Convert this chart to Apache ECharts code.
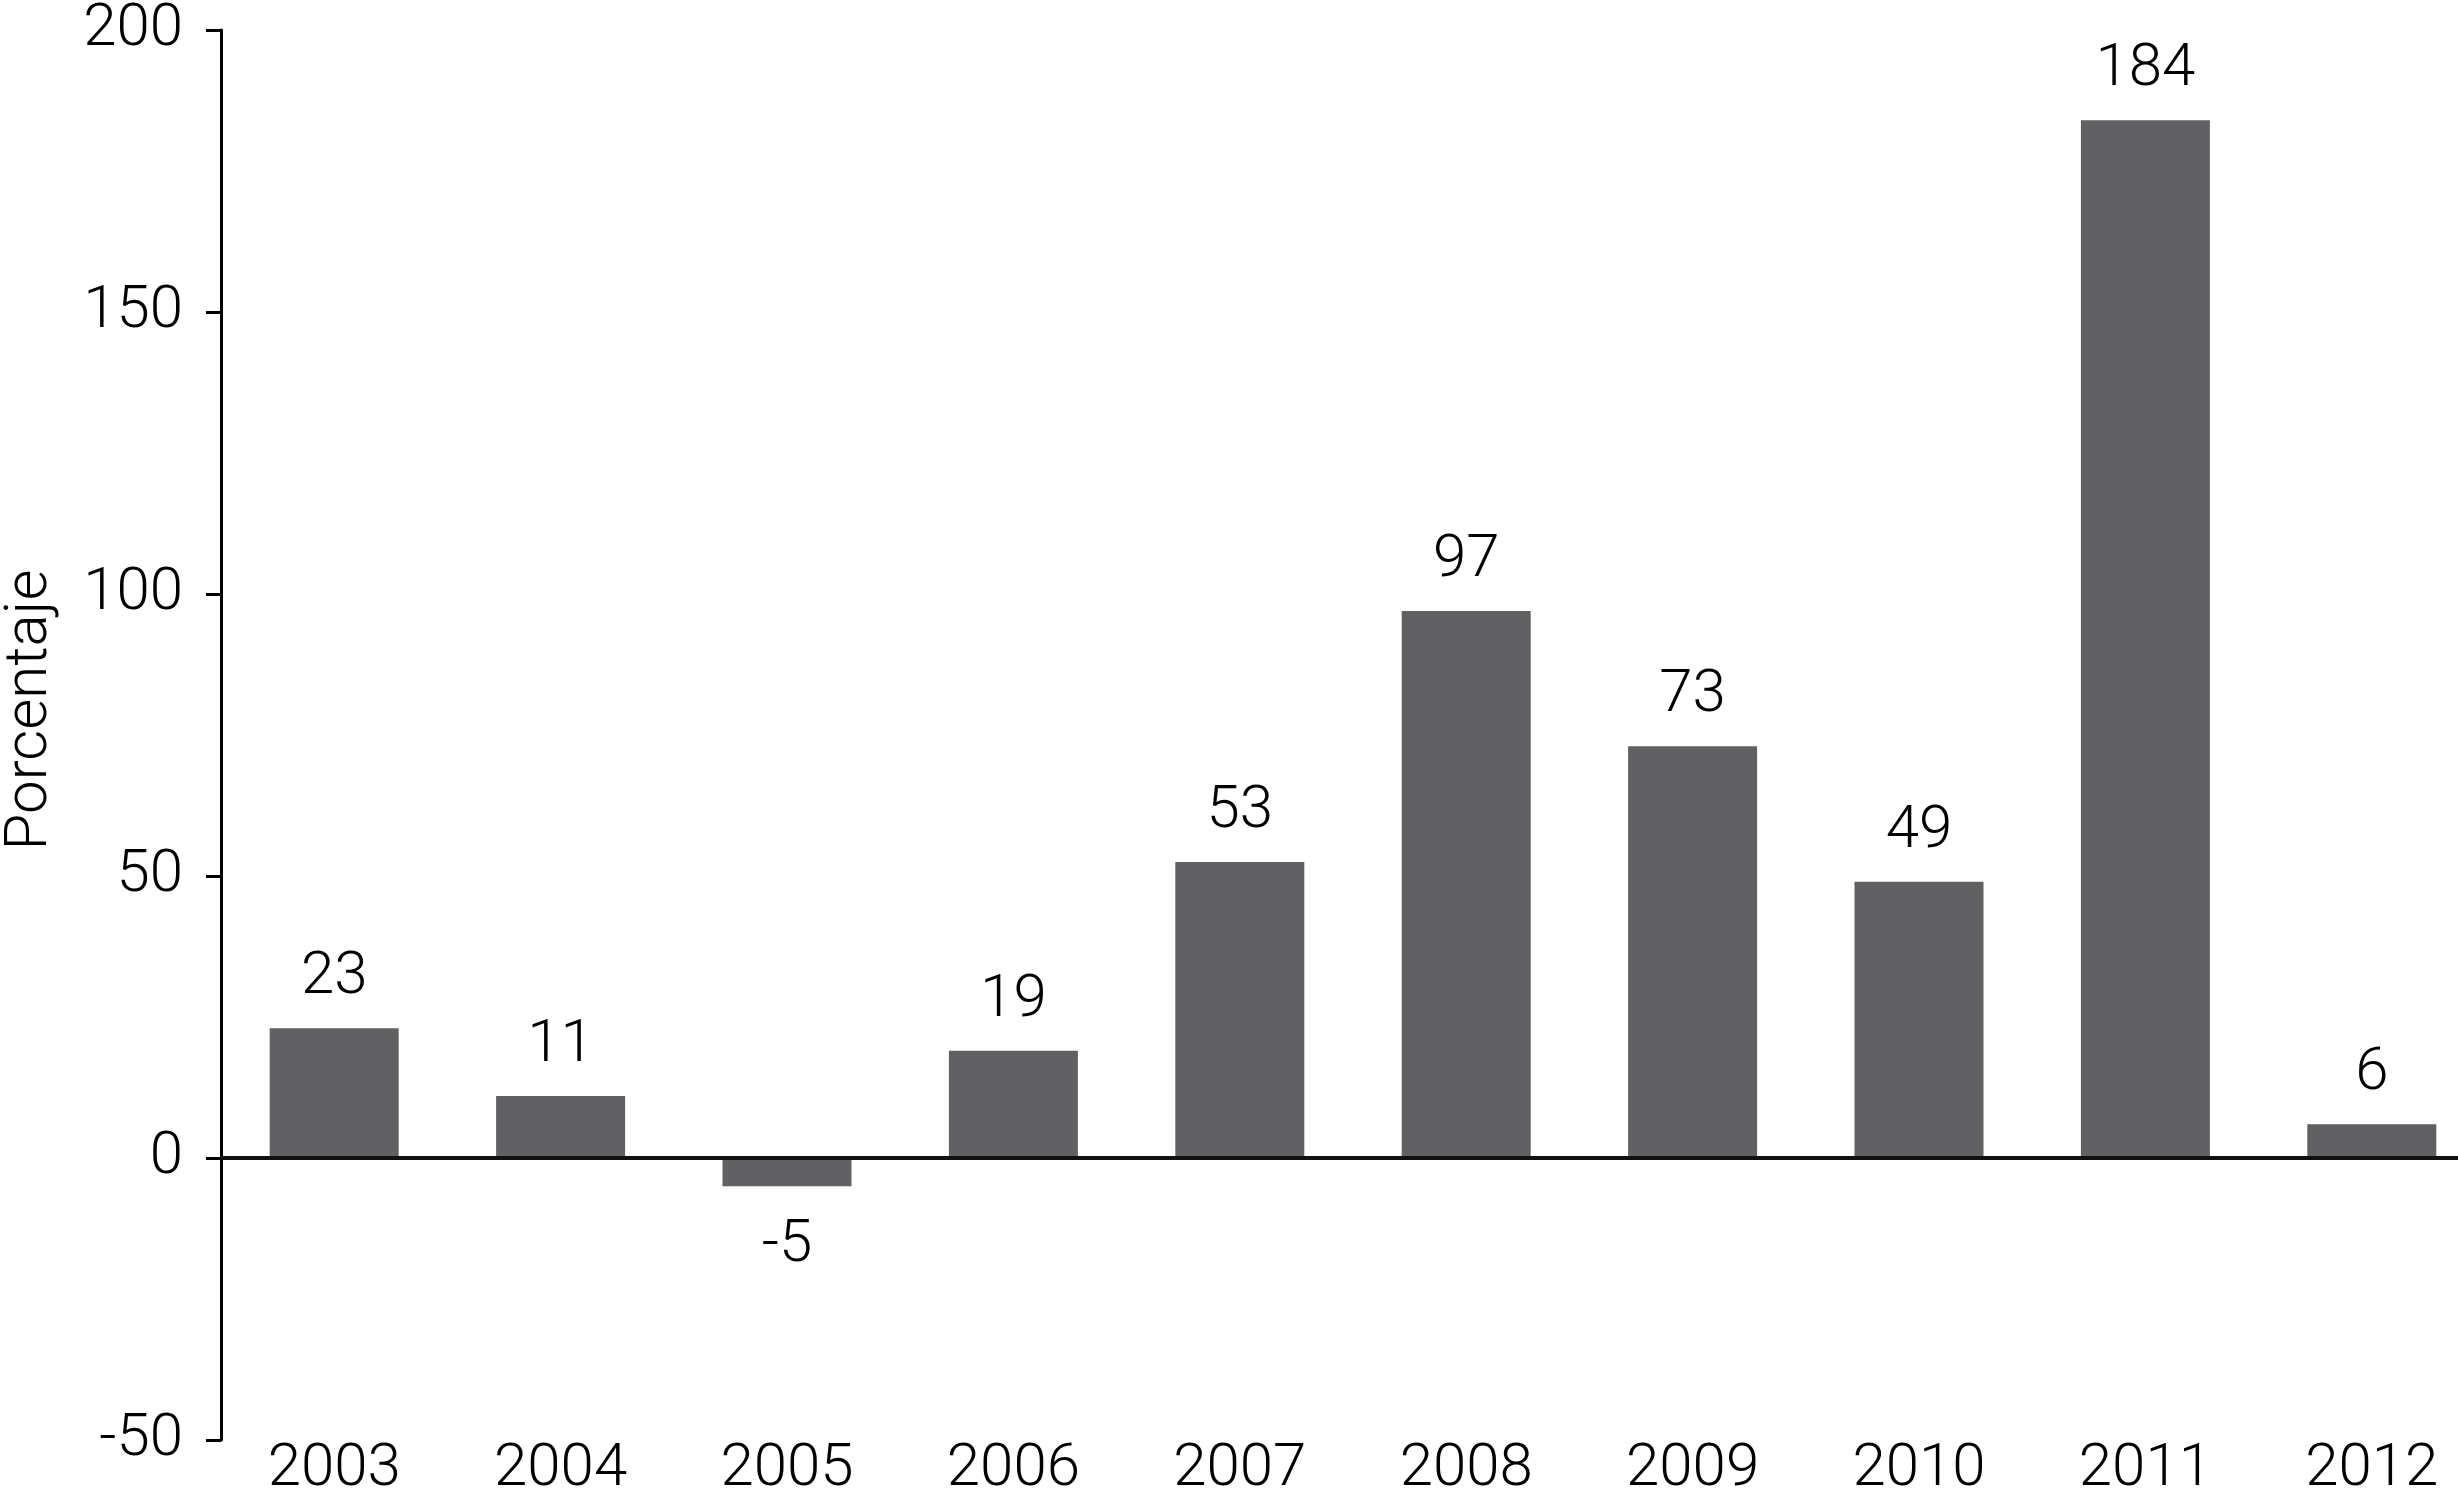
<!DOCTYPE html>
<html>
<head>
<meta charset="utf-8">
<script src="https://cdn.jsdelivr.net/npm/echarts@6/dist/echarts.min.js"></script>
<style>
html,body{margin:0;padding:0;background:#fff;}
#c{width:2458px;height:1491px;}
</style>
</head>
<body>
<div id="c"></div>
<script>
const categories = ['2003','2004','2005','2006','2007','2008','2009','2010','2011','2012'];
const values = [23, 11, -5, 19, 52.5, 97, 73, 49, 184, 6];
const yAxisName = 'Porcentaje';
const yMin = -50, yMax = 200, yStep = 50;

const FONT = "Roboto, 'Liberation Sans', sans-serif";
const FS = 60;
const FW = 300;

const chart = echarts.init(document.getElementById('c'));
chart.setOption({
  animation: false,
  backgroundColor: '#ffffff',
  grid: { left: 221, top: 30, width: 2264, height: 1410, containLabel: false, outerBoundsMode: 'none' },
  xAxis: {
    type: 'category',
    data: categories,
    boundaryGap: true,
    axisLine: { show: false, onZero: false },
    axisTick: { show: false },
    axisLabel: { color: '#000', fontFamily: FONT, fontSize: FS, fontWeight: FW, margin: 0 },
    splitLine: { show: false }
  },
  yAxis: {
    type: 'value',
    min: yMin, max: yMax, interval: yStep,
    name: yAxisName,
    nameLocation: 'middle',
    nameGap: 160,
    nameRotate: 90,
    nameTextStyle: { color: '#000', fontFamily: FONT, fontSize: FS, fontWeight: FW, padding: [0, 0, 0, 50] },
    axisLine: { show: true, lineStyle: { color: '#000', width: 3 } },
    axisTick: { show: true, length: 15, lineStyle: { color: '#000', width: 3 } },
    axisLabel: { color: '#000', fontFamily: FONT, fontSize: FS, fontWeight: FW, margin: 38 },
    splitLine: { show: false }
  },
  series: [{
    type: 'bar',
    barWidth: 129,
    itemStyle: { color: '#616163' },
    data: values.map(v => v < 0 ? { value: v, label: { position: 'bottom', distance: 30 } } : v),
    label: {
      show: true,
      position: 'top',
      distance: 20,
      color: '#000',
      fontFamily: FONT,
      fontSize: FS,
      fontWeight: FW,
      formatter: p => String(Math.round(p.value))
    },
    markLine: {
      silent: true,
      symbol: 'none',
      label: { show: false },
      lineStyle: { color: '#111', width: 4, type: 'solid' },
      data: [{ yAxis: 0 }]
    }
  }]
});
</script>
</body>
</html>
